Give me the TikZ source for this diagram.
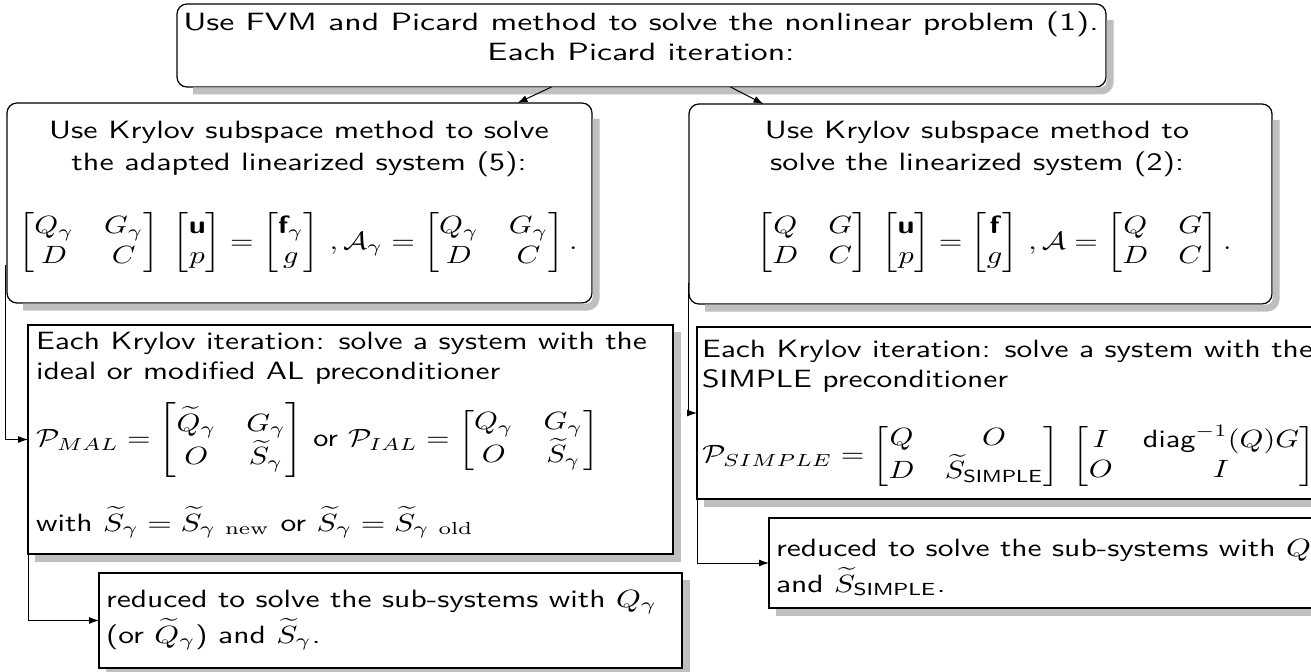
\documentclass[tikz,border=0pt]{standalone}
\usepackage{amsmath,amssymb}
\usetikzlibrary{calc,fit,arrows.meta}
\definecolor{shadowgray}{RGB}{191,191,191}
\begin{document}
\begin{tikzpicture}[x=0.4pt,y=-0.4pt,
  box/.style={draw, line width=0.5pt, fill=white, inner sep=0pt, outer sep=0pt},
  rbox/.style={box, rounded corners=4pt},
  shd/.style={draw=shadowgray, line width=2.8pt, line cap=butt},
  txt/.style={inner sep=0pt, outer sep=0pt, xscale=1.26, font=\sffamily},
  ttl/.style={txt, xscale=1.35/1.26},
  hdr/.style={txt, xscale=1.28/1.26},
  mth/.style={txt, xscale=1.21/1.26},
  con/.style={line width=0.4pt, -{Latex[length=4pt,width=2.8pt]}}]
\path[use as bounding box] (0,0) rectangle (1311,672);
\begin{scope}
\clip (0,0) rectangle (1311,672);
% boxes
\node[rbox, fit={(177,4) (1106,87)}] (top) {};
\node[rbox, fit={(7,103) (592,303)}] (midL) {};
\node[rbox, fit={(689,104) (1272,304)}] (midR) {};
\node[box, fit={(28,325) (673,554)}] (krylL) {};
\node[box, fit={(697,327) (1340,499)}] (krylR) {};
\node[box, fit={(99,573) (682,668)}] (botL) {};
\node[box, fit={(769,518) (1340,608)}] (botR) {};
% shadows (bands along bottom and right side of each box)
\foreach \n in {top,midL,midR}
  \draw[shd, rounded corners=3.5pt] ($(\n.south west)+(16,4)$) -| ($(\n.north east)+(4,16)$);
\foreach \n in {krylL,krylR,botL,botR}
  \draw[shd] ($(\n.south west)+(7,4)$) -| ($(\n.north east)+(4,7)$);
% texts
\node[ttl, anchor=base] (t1) at (641,31) {Use FVM and Picard method to solve the nonlinear problem (1).};
\node[ttl, anchor=base] (t2) at (641,61) {Each Picard iteration:};
\node[hdr, anchor=base] (l1) at (299,139) {Use Krylov subspace method to solve};
\node[hdr, anchor=base] (l2) at (299,171) {the adapted linearized system (5):};
\node[mth] (leq) at (298,243) {$\begin{bmatrix}Q_\gamma & G_\gamma\\ D & C\end{bmatrix}\;\begin{bmatrix}\text{\bfseries u}\\ p\end{bmatrix} = \begin{bmatrix}\text{\bfseries f}_\gamma\\ g\end{bmatrix}\,,\mathcal{A}_\gamma = \begin{bmatrix}Q_\gamma & G_\gamma\\ D & C\end{bmatrix}.$};
\node[hdr, anchor=base] (r1) at (977,139) {Use Krylov subspace method to};
\node[hdr, anchor=base] (r2) at (977,171) {solve the linearized system (2):};
\node[mth] (req) at (994,243) {$\begin{bmatrix}Q & G\\ D & C\end{bmatrix}\;\begin{bmatrix}\text{\bfseries u}\\ p\end{bmatrix} = \begin{bmatrix}\text{\bfseries f}\\ g\end{bmatrix}\,,\mathcal{A} = \begin{bmatrix}Q & G\\ D & C\end{bmatrix}.$};
\node[txt, anchor=base west] (kl1) at (36,349) {Each Krylov iteration: solve a system with the};
\node[txt, anchor=base west] (kl2) at (36,379) {ideal or modified AL preconditioner};
\node[mth, anchor=west] (kl3) at (36,440) {$\mathcal{P}_{MAL} = \begin{bmatrix}\widetilde{Q}_\gamma & G_\gamma\\ O & \widetilde{S}_\gamma\end{bmatrix}$ or $\mathcal{P}_{IAL} = \begin{bmatrix}Q_\gamma & G_\gamma\\ O & \widetilde{S}_\gamma\end{bmatrix}$};
\node[txt, anchor=base west] (kl4) at (36,531) {with $\widetilde{S}_\gamma = \widetilde{S}_{\gamma\ \mathrm{new}}$ or $\widetilde{S}_\gamma = \widetilde{S}_{\gamma\ \mathrm{old}}$};
\node[txt, anchor=base west] (kr1) at (702,357) {Each Krylov iteration: solve a system with the};
\node[txt, anchor=base west] (kr2) at (702,387) {SIMPLE preconditioner};
\node[mth, anchor=west] (kr3) at (702,456) {$\mathcal{P}_{SIMPLE} = \begin{bmatrix}Q & O\\ D & \widetilde{S}_{\text{SIMPLE}}\end{bmatrix}\;\begin{bmatrix}I & \text{diag}^{-1}(Q)G\\ O & I\end{bmatrix}$};
\node[txt, anchor=base west] (bl1) at (106,607) {reduced to solve the sub-systems with $Q_\gamma$};
\node[txt, anchor=base west] (bl2) at (106,643) {(or $\widetilde{Q}_\gamma$) and $\widetilde{S}_\gamma$.};
\node[txt, anchor=base west] (br1) at (776,556) {reduced to solve the sub-systems with $Q$};
\node[txt, anchor=base west] (br2) at (776,592) {and $\widetilde{S}_{\text{SIMPLE}}$.};
% connectors
\draw[con] ($(top.south)+(-90,0)$) -- ($(midL.north)+(218,0)$);
\draw[con] ($(top.south)+(89,0)$) -- ($(midR.north)+(-217,0)$);
\draw[con] ($(midL.south west)+(-2,-38)$) |- (krylL.west);
\draw[con] ($(midR.south west)+(-1,-21)$) |- (krylR.west);
\draw[con] (krylL.south west) |- (botL.west);
\draw[con] (krylR.south west) |- (botR.west);
\end{scope}
\end{tikzpicture}
\end{document}
